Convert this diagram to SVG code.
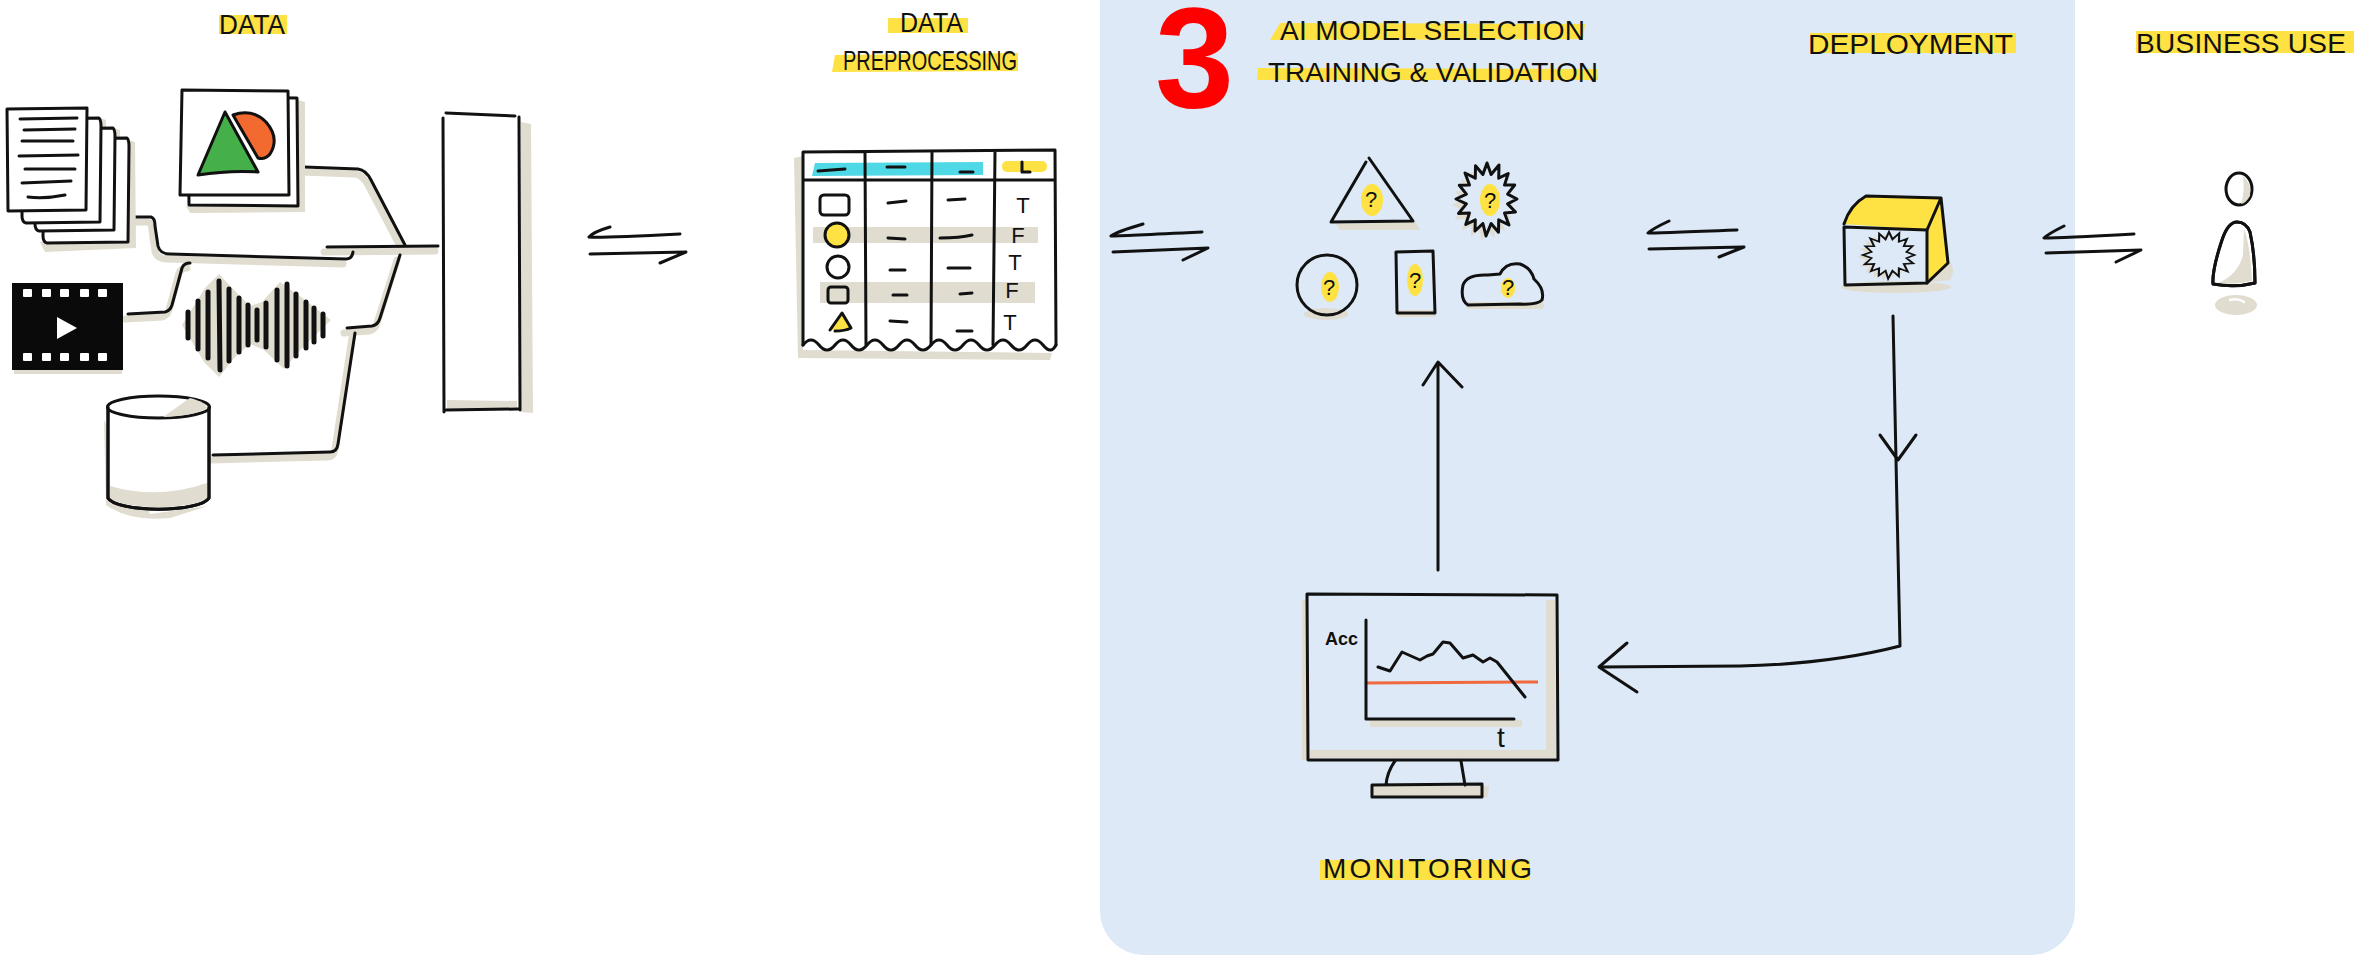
<svg xmlns="http://www.w3.org/2000/svg" width="2354" height="957" viewBox="0 0 2354 957">
<defs>
<style>
.ink{fill:none;stroke:#111;stroke-width:3;stroke-linecap:round;stroke-linejoin:round}
.inkw{fill:#fff;stroke:#111;stroke-width:3;stroke-linecap:round;stroke-linejoin:round}
.thin{fill:none;stroke:#111;stroke-width:2.5;stroke-linecap:round;stroke-linejoin:round}
.shade{fill:#e0dccf}
.shadeline{fill:none;stroke:#e0dccf;stroke-width:7;stroke-linecap:round;stroke-linejoin:round}
.hl{fill:#fee244}
.lbl{font-family:"Liberation Sans",Arial,sans-serif;font-size:28px;fill:#111}
.q{font-family:"Liberation Sans",Arial,sans-serif;font-size:22px;fill:#111;text-anchor:middle}
.bar{stroke:#111;stroke-width:5;stroke-linecap:round}
</style>
<polygon id="spiky" points="30,0 20.6,4.9 28.5,13 17.5,13.9 22,26 11.7,20.8 11.5,33.3 4.1,24.5 -1,37 -4.1,24.5 -12,32 -11.7,20.8 -21.2,25.5 -17.5,13.9 -28.5,14.5 -20.6,4.9 -31,0 -20.6,-4.9 -27.7,-13.8 -17.5,-13.9 -22,-26 -11.7,-20.8 -11.5,-33.3 -4.1,-24.5 0,-36 4.1,-24.5 12,-34 11.7,-20.8 21.2,-25.5 17.5,-13.9 27.7,-14 20.6,-4.9"/>
</defs>

<rect width="2354" height="957" fill="#fff"/>

<!-- stage 3 background panel -->
<path id="panel" d="M1100 0 H2075 V911 A44 44 0 0 1 2031 955 H1144 A44 44 0 0 1 1100 911 Z" fill="#dde9f6"/>

<!-- section titles -->
<g id="titles">
  <rect class="hl" x="219" y="15" width="68" height="19"/>
  <text class="lbl" x="219" y="34" font-size="30" textLength="66" lengthAdjust="spacingAndGlyphs">DATA</text>

  <rect class="hl" x="888" y="18" width="80" height="15"/>
  <text class="lbl" x="900" y="32" font-size="30" textLength="63" lengthAdjust="spacingAndGlyphs">DATA</text>
  <polygon class="hl" points="835,55 1018,53 1018,71 832,72"/>
  <text class="lbl" x="843" y="70" font-size="30" textLength="174" lengthAdjust="spacingAndGlyphs">PREPROCESSING</text>

  <text x="1155" y="107" font-family="Liberation Sans, Arial, sans-serif" font-weight="bold" font-size="142" fill="#ff0000">3</text>
  <polygon class="hl" points="1280,23 1585,24 1583,39 1270,40"/>
  <text class="lbl" x="1280" y="40" font-size="27" textLength="305" lengthAdjust="spacing">AI MODEL SELECTION</text>
  <polygon class="hl" points="1258,68 1597,69 1598,80 1257,80"/>
  <text class="lbl" x="1268" y="82" font-size="27" textLength="330" lengthAdjust="spacing">TRAINING &amp; VALIDATION</text>

  <rect class="hl" x="1810" y="33" width="206" height="20"/>
  <text class="lbl" x="1808" y="54" font-size="31" textLength="205" lengthAdjust="spacingAndGlyphs">DEPLOYMENT</text>

  <rect class="hl" x="2136" y="31" width="218" height="22"/>
  <text class="lbl" x="2136" y="53" font-size="31" textLength="210" lengthAdjust="spacing">BUSINESS USE</text>

  <rect class="hl" x="1320" y="860" width="210" height="20"/>
  <text class="lbl" x="1323" y="878" font-size="31" textLength="209" lengthAdjust="spacing">MONITORING</text>
</g>

<!-- connectors -->
<g id="connectors">
  <!-- data sources into the collector -->
  <g transform="translate(-3,5)">
    <path class="shadeline" d="M132 217 L151 217 Q155 218 155 226 L158 246 Q160 254 170 254 L346 259"/>
    <path class="shadeline" d="M128 314 L165 312 Q170 311 172 305 L182 268 Q184 263 190 263"/>
    <path class="shadeline" d="M304 167 L358 169 Q366 170 371 180 L405 245"/>
    <path class="shadeline" d="M327 247 L438 246"/>
    <path class="shadeline" d="M347 328 L372 326 Q378 325 380 318 L400 255"/>
    <path class="shadeline" d="M213 455 L330 452 Q337 452 338 444 L355 333"/>
  </g>
  <path class="ink" d="M132 217 L151 217 Q155 218 155 226 L158 246 Q160 254 170 254 L346 259 Q352 259 353 252"/>
  <path class="ink" d="M128 314 L165 312 Q170 311 172 305 L182 268 Q184 263 190 263"/>
  <path class="ink" d="M304 167 L358 169 Q366 170 371 180 L405 245"/>
  <path class="ink" d="M327 247 L438 246"/>
  <path class="ink" d="M347 328 L372 326 Q378 325 380 318 L400 255"/>
  <path class="ink" d="M213 455 L330 452 Q337 452 338 444 L355 333"/>

  <!-- two-way arrows between stages -->
  <path class="ink" d="M610 227 Q593 232 589 237 Q600 238 680 234 M590 254 L686 252 L660 263"/>
  <path class="ink" d="M1143 224 Q1116 232 1111 236 Q1120 236 1202 232 M1113 252 L1208 248 L1183 260"/>
  <path class="ink" d="M1669 221 Q1652 229 1648 233 Q1660 233 1737 230 M1649 249 L1744 247 L1719 257"/>
  <path class="ink" d="M2064 226 Q2048 234 2044 238 Q2060 238 2134 234 M2046 253 L2141 250 L2116 262"/>

  <!-- monitoring feeds back into model selection -->
  <path class="ink" d="M1438 570 L1438 363 M1423 385 L1438 362 L1462 387"/>

  <!-- deployment down to monitoring -->
  <path class="ink" d="M1893 316 L1896 460 L1900 646 Q1830 664 1740 666 L1600 667"/>
  <path class="ink" d="M1880 435 L1898 460 L1916 435"/>
  <path class="ink" d="M1627 643 L1599 667 L1637 692"/>
</g>

<!-- text documents -->
<g id="documents">
  <path class="shade" d="M128 140 L135 142 L136 248 L45 252 L40 242 L128 242 Z"/>
  <path class="shade" d="M100 118 L106 120 L108 225 L100 222 Z M114 128 L120 130 L121 233 L114 230 Z"/>
  <path class="inkw" d="M45 139 L127 138 Q129 140 129 146 L128 242 L47 243 Q43 242 43 236 Z"/>
  <path class="inkw" d="M37 129 L113 128 Q115 130 115 136 L114 230 L39 231 Q35 230 35 224 Z"/>
  <path class="inkw" d="M23 119 L99 118 Q101 120 101 126 L100 222 L26 223 Q22 222 22 216 Z"/>
  <path class="inkw" d="M7 109 L87 108 L86 210 L8 211 Z"/>
  <path class="ink" d="M20 119 L77 118 M24 130 L75 129 M22 141 L73 141 M19 156 L78 155 M25 169 L75 169 M22 183 L71 181 M28 197 Q45 199 65 195"/>
</g>

<!-- picture files -->
<g id="pictures">
  <path class="shade" d="M298 100 L305 102 L305 212 L190 213 L186 206 L298 206 Z"/>
  <path class="inkw" d="M188 97 L297 98 L298 206 L189 205 Z"/>
  <path class="inkw" d="M182 90 L288 91 L289 195 L180 195 Z"/>
  <path d="M233 115 Q252 108 266 122 Q280 138 270 154 Q265 160 258 158 Z" fill="#f26a30" stroke="#111" stroke-width="3" stroke-linejoin="round"/>
  <path d="M225 112 L258 172 Q230 170 198 175 Z" fill="#45b04a" stroke="#111" stroke-width="3" stroke-linejoin="round"/>
</g>

<!-- video -->
<g id="video">
  <rect class="shade" x="14" y="368" width="108" height="6"/>
  <rect x="12" y="283" width="111" height="87" fill="#0a0a0a"/>
  <g fill="#fff">
    <rect x="23" y="289" width="9" height="8" rx="1"/><rect x="42" y="289" width="9" height="8" rx="1"/><rect x="60" y="289" width="9" height="8" rx="1"/><rect x="80" y="289" width="9" height="8" rx="1"/><rect x="98" y="289" width="9" height="8" rx="1"/>
    <rect x="23" y="353" width="9" height="8" rx="1"/><rect x="42" y="353" width="9" height="8" rx="1"/><rect x="60" y="353" width="9" height="8" rx="1"/><rect x="80" y="353" width="9" height="8" rx="1"/><rect x="98" y="353" width="9" height="8" rx="1"/>
    <path d="M57 317 L57 339 L77 328 Z"/>
  </g>
</g>

<!-- audio waveform -->
<g id="audio">
  <path class="shade" d="M182 325 L205 288 L219 274 L236 292 L250 306 L262 302 L280 282 L300 296 L331 320 L302 348 L284 369 L264 350 L250 344 L236 356 L219 377 L204 362 Z"/>
  <line class="bar" x1="188" y1="312" x2="188" y2="338"/>
  <line class="bar" x1="198" y1="301" x2="198" y2="349"/>
  <line class="bar" x1="208" y1="292" x2="208" y2="358"/>
  <line class="bar" x1="219" y1="281" x2="220" y2="370"/>
  <line class="bar" x1="229" y1="289" x2="229" y2="361"/>
  <line class="bar" x1="239" y1="298" x2="239" y2="352"/>
  <line class="bar" x1="248" y1="305" x2="248" y2="345"/>
  <line class="bar" x1="257" y1="310" x2="257" y2="340"/>
  <line class="bar" x1="266" y1="303" x2="266" y2="347"/>
  <line class="bar" x1="277" y1="290" x2="277" y2="360"/>
  <line class="bar" x1="287" y1="284" x2="287" y2="366"/>
  <line class="bar" x1="296" y1="294" x2="296" y2="356"/>
  <line class="bar" x1="306" y1="302" x2="306" y2="348"/>
  <line class="bar" x1="314" y1="308" x2="314" y2="342"/>
  <line class="bar" x1="323" y1="314" x2="323" y2="336"/>
</g>

<!-- database -->
<g id="database">
  <path class="shade" d="M104 420 L106 505 Q130 522 170 518 L208 506 L150 514 Z"/>
  <path class="inkw" d="M108 407 L108 498 A51 13 0 0 0 209 498 L209 407"/>
  <path class="shade" d="M110 486 Q158 500 207 483 L207 498 A50 12 0 0 1 110 498 Z"/>
  <ellipse class="inkw" cx="158.5" cy="407" rx="51" ry="11"/>
  <path class="shade" d="M163 417 L190 398 Q206 402 207 408 Q195 416 163 417 Z"/>
  <path class="ink" d="M108 407 L108 498 A51 13 0 0 0 209 498 L209 407"/>
</g>

<!-- collector bar -->
<g id="collector">
  <path class="shade" d="M521 122 L531 124 L533 413 L521 412 Z M447 400 L517 401 L517 410 L447 410 Z"/>
  <path class="ink" d="M446 113 L515 116 M443 118 L444 412 M519 117 L520 410 M446 410 L518 409"/>
</g>

<!-- preprocessed table -->
<g id="table">
  <path class="shade" d="M794 158 L803 156 L803 350 L1052 353 L1050 360 L798 358 Z"/>
  <path d="M803 152 L1055 150 L1056 345 L803 345 Z" fill="#fff"/>
  <path d="M815 163 L983 162 L983 175 L812 176 Z" fill="#4fd8e6"/>
  <rect x="1002" y="161" width="45" height="11" rx="5" class="hl"/>
  <rect class="shade" x="813" y="227" width="225" height="16"/>
  <rect class="shade" x="820" y="282" width="215" height="21"/>
  <path class="ink" d="M803 152 L1055 150 M803 180 L1055 180 M803 152 L803 345 M1055 150 L1056 345 M865 152 L866 345 M932 152 L931 345 M995 152 L993 345"/>
  <path class="ink" d="M803 345 Q811 335 819 345 T835 345 T851 345 T867 345 T883 345 T899 345 T915 345 T931 345 T947 345 T963 345 T979 345 T995 345 T1011 345 T1027 345 T1043 345 T1056 345"/>
  <path class="ink" d="M818 171 L845 169 M887 167 L905 167 M960 172 L973 172 M1022 162 L1022 172 L1030 172"/>
  <rect class="ink" x="820" y="195" width="29" height="20" rx="4"/>
  <circle cx="837" cy="235" r="12" fill="#fee244" stroke="#111" stroke-width="3"/>
  <circle class="ink" cx="838" cy="267" r="11"/>
  <rect class="ink" x="828" y="287" width="20" height="16" rx="3"/>
  <path d="M842 313 L830 330 L851 329 Z" fill="#fee244"/>
  <path class="ink" d="M830 330 L842 313 L851 328 Q845 331 835 331"/>
  <path class="ink" d="M888 203 L906 201 M948 200 L965 199 M888 238 L905 239 M940 238 Q960 238 972 235 M890 270 L905 270 M948 268 L970 268 M893 295 L907 295 M960 294 L972 293 M890 321 L907 322 M957 331 L972 331"/>
  <g class="q" font-size="22">
    <text x="1023" y="213">T</text>
    <text x="1018" y="243">F</text>
    <text x="1015" y="270">T</text>
    <text x="1012" y="298">F</text>
    <text x="1010" y="330">T</text>
  </g>
</g>

<!-- candidate models -->
<g id="models">
  <path class="shade" d="M1336 224 L1415 222 L1420 230 L1340 230 Z M1410 214 L1418 226 L1413 226 Z"/>
  <path class="ink" d="M1366 162 L1331 222 L1413 221 L1369 158"/>
  <ellipse class="hl" cx="1372" cy="200" rx="11" ry="16"/>
  <text class="q" x="1371" y="207">?</text>

  <use href="#spiky" transform="translate(1483,205)" class="shade"/>
  <use href="#spiky" transform="translate(1487,199)" fill="#dde9f6" stroke="#111" stroke-width="3" stroke-linejoin="round"/>
  <ellipse class="hl" cx="1490" cy="200" rx="10" ry="16"/>
  <text class="q" x="1490" y="208">?</text>

  <ellipse class="shade" cx="1326" cy="314" rx="22" ry="6"/>
  <circle class="ink" cx="1327" cy="285" r="30"/>
  <ellipse class="hl" cx="1330" cy="287" rx="9" ry="15"/>
  <text class="q" x="1329" y="295">?</text>

  <rect class="shade" x="1398" y="310" width="38" height="7"/>
  <path class="ink" d="M1396 252 L1433 251 L1435 313 L1397 313 Z"/>
  <ellipse class="hl" cx="1415" cy="280" rx="8" ry="16"/>
  <text class="q" x="1415" y="288">?</text>

  <rect class="shade" x="1466" y="302" width="78" height="7" rx="3"/>
  <path class="ink" d="M1468 305 Q1460 300 1463 285 Q1467 274 1488 275 L1500 274 Q1506 262 1520 264 Q1531 268 1534 279 Q1545 289 1542 300 Q1537 305 1520 304 Z"/>
  <ellipse class="hl" cx="1508" cy="288" rx="7" ry="10"/>
  <text class="q" x="1508" y="295" font-size="18">?</text>
</g>

<!-- deployed model box -->
<g id="deployment">
  <ellipse class="shade" cx="1896" cy="287" rx="55" ry="6"/>
  <path class="shade" d="M1930 282 L1950 262 Q1956 270 1950 280 Z"/>
  <path class="hl" d="M1844 224 Q1850 205 1866 196 L1941 198 L1927 230 Z"/>
  <path class="hl" d="M1927 230 L1941 198 L1948 263 L1927 283 Z"/>
  <path class="ink" d="M1844 224 Q1850 205 1866 196 L1941 198 M1941 198 L1927 230 M1941 198 L1948 263 L1927 283"/>
  <path class="ink" d="M1844 227 L1927 230 L1927 283 L1845 285 Z"/>
  <use href="#spiky" transform="translate(1884,257) scale(0.85,0.64)" class="shade"/>
  <use href="#spiky" transform="translate(1889,255) scale(0.85,0.64)" fill="#dde9f6" stroke="#111" stroke-width="2.5" vector-effect="non-scaling-stroke"/>
</g>

<!-- business user -->
<g id="business-user">
  <ellipse class="shade" cx="2236" cy="305" rx="21" ry="10"/>
  <path d="M2230 300 Q2238 298 2244 302" stroke="#fff" stroke-width="2.5" fill="none" stroke-linecap="round"/>
  <ellipse class="inkw" cx="2239" cy="189" rx="13" ry="16"/>
  <path class="shade" d="M2243 176 Q2252 184 2250 196 Q2246 203 2241 204 Q2245 192 2243 176 Z"/>
  <path class="inkw" d="M2237 222 Q2228 222 2222 240 Q2212 270 2213 284 Q2235 288 2255 283 Q2255 255 2250 232 Q2246 222 2237 222 Z"/>
  <path class="shade" d="M2244 228 Q2251 250 2252 281 Q2235 285 2218 283 Q2238 275 2243 255 Z"/>
  <path class="ink" d="M2237 222 Q2228 222 2222 240 Q2212 270 2213 284 Q2235 288 2255 283 Q2255 255 2250 232 Q2246 222 2237 222 Z"/>
</g>

<!-- monitoring screen -->
<g id="monitoring">
  <rect class="shade" x="1302" y="600" width="6" height="160"/>
  <path class="shade" d="M1310 750 L1546 750 L1546 600 L1555 600 L1556 758 L1310 758 Z"/>
  <path class="ink" d="M1307 594 L1557 595 L1558 760 L1308 760 Z"/>
  <rect class="shade" x="1370" y="720" width="152" height="7"/>
  <path d="M1367 683 L1538 682" stroke="#f0683d" stroke-width="3" fill="none"/>
  <path class="ink" d="M1366 620 L1366 719 L1514 719"/>
  <polyline class="ink" points="1378,667 1390,671 1402,652 1420,660 1427,656 1433,654 1443,642 1450,643 1463,658 1473,655 1483,662 1490,658 1497,662 1525,697"/>
  <text x="1325" y="645" font-family="Liberation Sans, Arial, sans-serif" font-size="18" font-weight="bold" fill="#111">Acc</text>
  <text x="1497" y="747" font-family="Liberation Sans, Arial, sans-serif" font-size="28" fill="#111">t</text>
  <path class="shade" d="M1374 786 L1489 786 L1488 797 L1374 797 Z"/>
  <path class="ink" d="M1395 761 Q1387 772 1386 785 M1461 761 L1465 785 M1372 785 L1482 784 L1482 797 L1372 797 Z"/>
</g>
</svg>
